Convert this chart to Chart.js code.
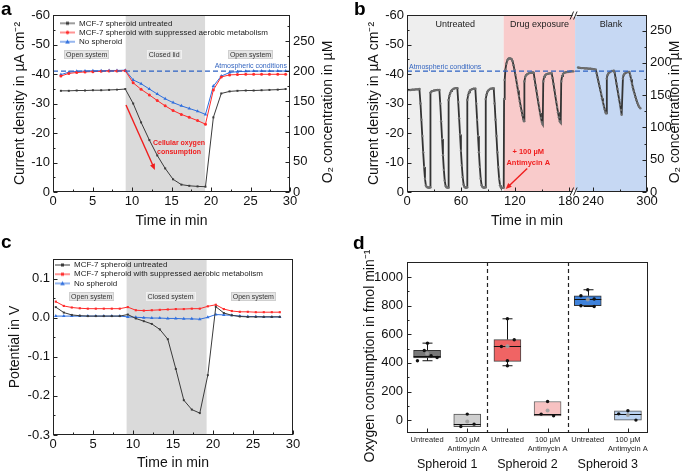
<!DOCTYPE html>
<html><head><meta charset="utf-8">
<script src="https://cdn.jsdelivr.net/npm/chart.js@4.4.1/dist/chart.umd.min.js"></script>
<style>
html,body{margin:0;padding:0;background:#fff;}
body{width:690px;height:472px;position:relative;overflow:hidden;font-family:'Liberation Sans',Arial,sans-serif;}
canvas{position:absolute;}
.tag{position:absolute;font-weight:bold;font-size:19px;line-height:19px;color:#000;}
</style></head><body>
<canvas id="ca" width="345" height="236" style="left:0;top:0"></canvas>
<canvas id="cb" width="345" height="236" style="left:345px;top:0"></canvas>
<canvas id="cc" width="345" height="236" style="left:0;top:236px"></canvas>
<canvas id="cd" width="345" height="236" style="left:345px;top:236px"></canvas>
<div class="tag" style="left:1px;top:-1px">a</div>
<div class="tag" style="left:354px;top:-1px">b</div>
<div class="tag" style="left:1px;top:232px">c</div>
<div class="tag" style="left:353px;top:233px">d</div>
<script>
// ================= DATA =================
// Panel a: current density (µA cm-2) vs time (min)
const aTime = [1.0,2.0,3.0,4.05,5.05,6.1,7.1,8.1,9.15,10.15,11.15,12.2,13.2,14.2,15.2,16.25,17.25,18.3,19.3,20.3,21.3,22.35,23.35,24.4,25.4,26.4,27.4,28.45,29.45];
const aUntreated = [-34.3,-34.3,-34.4,-34.4,-34.5,-34.5,-34.6,-34.7,-34.9,-30.0,-23.6,-17.6,-12.4,-8.0,-4.3,-2.5,-2.1,-1.9,-1.8,-25.3,-33.4,-34.1,-34.3,-34.4,-34.4,-34.5,-34.6,-34.7,-34.9];
const aSuppressed = [-39.3,-40.2,-40.5,-40.7,-40.8,-40.9,-41.0,-41.0,-41.1,-37.0,-34.8,-32.9,-31.0,-29.2,-27.6,-26.3,-25.3,-24.2,-23.0,-34.6,-39.0,-39.7,-39.8,-39.9,-39.9,-39.9,-39.9,-39.9,-39.9];
const aNoSpheroid = [-39.8,-40.6,-40.9,-41.0,-41.1,-41.1,-41.2,-41.2,-41.3,-38.0,-36.7,-34.9,-33.2,-31.6,-30.3,-29.2,-28.3,-27.4,-26.3,-35.9,-39.3,-40.5,-40.8,-40.9,-41.0,-41.0,-41.0,-41.0,-41.0];
const aXTicks = [0,5,10,15,20,25,30];
const aXMinor = [2.5,7.5,12.5,17.5,22.5,27.5];
const aYTicks = [-60,-50,-40,-30,-20,-10,0];
const aYMinor = [-55,-45,-35,-25,-15,-5];
const aO2Ticks = [0,50,100,150,200,250];
const aO2Minor = [25,75,125,175,225,275];
const aClosedPeriod = [9.2, 19.25];
const atmosphericLevel = -41.0;

// Panel b: long-term measurement (real minutes; 187-220 min cut out of the axis)
const bTimeMain = [0,2,4,6,8,10,12,13.8,15,16,17,18,19,20,21,22,23,24,25,25.8,26.1,27,28,30,32,34,36,37,38,39,40,41,42,43,44,45,46,46.3,47,48,49,50,52,54,56,57,58,59,60,61,62,63,64,65,66,66.8,67.1,68,69,70,72,74,76,77,78,79,80,81,82,83,84,85,86,87.3,87.6,88.5,89.5,91,93,95,96.5,97.5,98.5,99.5,100.5,101.5,102.5,103.5,104.5,105.5,106.5,107.6,108,108.7,109.5,110.5,111.5,112.5,113.5,114.5,115.5,116.5,117.5,118.5,119.5,120.5,121.5,122.5,123.5,124.5,125.5,126.5,127.5,128.5,129.5,130.2,130.6,131.5,132.5,134,136,138,140,141,142,143,144,145,146,147,148,149,150,151,151.6,152.5,153.5,155,157,159,161,162,163,164,165,166,167,168,169,170,171,171.6,172.5,173.5,175,177,179,181,183,185];
const bCurrentMain = [-34.5,-34.6,-34.6,-34.7,-34.7,-34.8,-34.8,-34.9,-30,-24.5,-19,-13.5,-8.5,-4.5,-2.2,-1.7,-1.6,-1.5,-1.5,-1.6,-33.7,-34.0,-34.2,-34.4,-34.5,-34.6,-34.6,-30,-24,-18,-12.5,-7.5,-3.8,-2.0,-1.6,-1.5,-1.5,-31.2,-32.5,-33.5,-34.2,-34.6,-35.0,-35.2,-35.2,-30.5,-25,-19.5,-14,-9,-5,-2.5,-1.7,-1.5,-1.5,-1.6,-31.2,-32.8,-33.8,-34.4,-34.8,-35.0,-35.0,-30,-24.5,-19,-13.5,-8.5,-4.5,-2.3,-1.7,-1.5,-1.5,-1.6,-31.5,-33.0,-34.0,-34.6,-35.0,-35.1,-35.1,-30,-24.5,-19,-13.5,-8.5,-4.5,-2.3,-1.6,-1.4,-1.4,-1.5,-31.5,-38,-41.5,-43.5,-44.6,-45.1,-45.3,-45.3,-45.2,-45.0,-44.3,-43,-41.5,-39.8,-38,-36.2,-34.4,-32.6,-30.8,-29.1,-27.5,-26,-24.6,-24,-37.5,-39,-39.6,-40,-40.3,-40.4,-40.5,-40.4,-38.2,-36.2,-34.3,-32.3,-30.4,-28.6,-26.8,-25.1,-23.7,-23,-37.5,-39,-39.5,-39.9,-40.1,-40.2,-40.2,-38.6,-36.6,-34.6,-32.6,-30.6,-28.8,-27,-25.3,-24,-23.5,-37.5,-39.3,-40,-40.4,-40.6,-40.7,-40.8,-40.9,-40.9];
const bTimeBlank = [223.3,225,227,229,231,233,235,237,239,241,243,244,245,246,247,248,249,250,251,252,253,254,254.5,255.3,256,257,259,261,263,264,265,266,267,268,269,270,271,271.8,273.2,274,275,277,279,280.3,281.3,282.3,283.3,284.3,285.3,286.3,287.3,288.3,289.3,290.3,291.3,292.6];
const bCurrentBlank = [-42.2,-42.1,-42.0,-42.0,-41.9,-41.9,-41.8,-41.8,-41.7,-41.6,-41.5,-40.2,-38.8,-37.4,-36,-34.6,-33.2,-31.8,-30.5,-29.2,-28,-27,-26.7,-38.5,-39.6,-40.2,-40.7,-41,-41.1,-40.5,-38.7,-36.8,-35,-33.2,-31.4,-29.6,-27.8,-26.2,-38.5,-39.6,-40.1,-40.5,-40.7,-40.7,-39.6,-38.2,-36.8,-35.5,-34.3,-33.2,-32.1,-31.1,-30.2,-29.4,-28.8,-28.4];
const bXTickValues = [0,60,120,180,240,300];
const bXTickLabels = ['0','60','120','180','240','300'];
const bXMinorValues = [30,90,150,270];
const bO2Ticks = [0,50,100,150,200,250];
const bO2Minor = [25,75,125,175,225];
const bPhaseLabels = ['Untreated','Drug exposure','Blank'];
const bPhaseStart = [0,107.6,220];
const bPhaseEnd = [107.6,187,300];
const bAxisCutStart = 187, bAxisCutEnd = 220;

// Panel c: potential (V)
const cTime = [0.35,1.35,2.35,3.35,4.35,5.35,6.35,7.35,8.35,9.35,10.35,11.35,12.35,13.35,14.35,15.35,16.35,17.35,18.35,19.35,20.35,21.35,22.35,23.35,24.35,25.35,26.35,27.35,28.35];
const cUntreated = [0.027,0.013,0.007,0.005,0.004,0.004,0.004,0.004,0.004,0.008,-0.002,-0.009,-0.016,-0.030,-0.055,-0.131,-0.211,-0.235,-0.244,-0.147,0.028,0.012,0.006,0.003,0.002,0.002,0.002,0.002,0.002];
const cSuppressed = [0.041,0.030,0.026,0.024,0.023,0.023,0.023,0.023,0.023,0.027,0.019,0.018,0.019,0.020,0.021,0.022,0.022,0.023,0.023,0.029,0.033,0.022,0.017,0.015,0.015,0.014,0.014,0.014,0.014];
const cNoSpheroid = [0.004,0.004,0.004,0.004,0.004,0.004,0.004,0.004,0.004,0.002,0.001,0.000,-0.001,-0.001,-0.002,-0.002,-0.003,-0.003,-0.004,0.001,0.008,0.007,0.006,0.004,0.003,0.003,0.002,0.002,0.002];
const cXTicks = [0,5,10,15,20,25,30];
const cXMinor = [2.5,7.5,12.5,17.5,22.5,27.5];
const cYTicks = [-0.3,-0.2,-0.1,0,0.1];
const cYMinor = [-0.25,-0.15,-0.05,0.05];
const cClosedPeriod = [9.2, 19.2];

// Panel d: oxygen consumption (fmol/min)
const dCategories = ['Untreated',['100 µM','Antimycin A'],'Untreated',['100 µM','Antimycin A'],'Untreated',['100 µM','Antimycin A']];
const dGroups = ['Spheroid 1','Spheroid 2','Spheroid 3'];
const dMin = [415,-45,380,30,794,0];
const dQ1 = [434,-45,410,30,799,0];
const dMedian = [450,-28,515,42,846,44];
const dQ3 = [487,42,562,130,869,65];
const dMax = [538,42,708,130,911,65];
const dMean = [465.6,-10.3,516,67,843.8,36];
const dPoints = [[415,487,538,450,438],[-45,42,-28],[708,562,515,415,380],[130,42,30],[911,869,846,799,794],[65,44,0]];
const dJitter = [[-0.24,-0.07,0.01,0.1,0.25],[-0.16,0,0.17],[0,0.17,-0.15,0,0],[0,-0.16,0.15],[0,-0.17,0.16,-0.17,0.16],[0,-0.23,0.2]];
const dYTicks = [0,200,400,600,800,1000];
const dYMinor = [100,300,500,700,900];

// ================= STYLE / HELPERS =================
const FONT = "'Liberation Sans', Arial, Helvetica, sans-serif";
Chart.defaults.font.family = FONT;
Chart.defaults.font.size = 13;
Chart.defaults.color = '#111';
const colBlack = '#3a3a3a', colRed = '#ff2b2b', colBlue = '#2f6fde', colDash = '#2d62c4';
const pts = (xs, ys) => xs.map((x, i) => ({x: x, y: ys[i]}));
const fixed = vals => scale => { scale.ticks = vals.map(v => ({value: v})); };
const bAxis = t => t <= bAxisCutStart ? t : t - (bAxisCutEnd - bAxisCutStart);

function lineSet(label, xs, ys, color, style, r) {
  return {label: label, data: pts(xs, ys), borderColor: color, backgroundColor: color, borderWidth: 1,
    pointStyle: style, pointRadius: r, pointBorderWidth: 0, pointBackgroundColor: color, tension: 0, order: 1};
}
function icon(color, style) {
  const c = document.createElement('canvas'); c.width = 15; c.height = 6;
  const g = c.getContext('2d');
  g.strokeStyle = color; g.lineWidth = 1; g.beginPath(); g.moveTo(0, 3); g.lineTo(15, 3); g.stroke();
  g.fillStyle = color;
  if (style === 'rect') g.fillRect(6, 1.5, 3, 3);
  else if (style === 'circle') { g.beginPath(); g.arc(7.5, 3, 1.7, 0, 2 * Math.PI); g.fill(); }
  else { g.beginPath(); g.moveTo(7.5, 0.8); g.lineTo(9.8, 4.8); g.lineTo(5.2, 4.8); g.closePath(); g.fill(); }
  return c;
}
function legendOpts(icons) {
  return {display: true, position: 'chartArea', align: 'start',
    labels: {usePointStyle: true, pointStyleWidth: 15, boxHeight: 8, padding: 1.2, font: {size: 8}, color: '#222',
      filter: it => !!it.text,
      generateLabels: chart => {
        const items = Chart.defaults.plugins.legend.labels.generateLabels(chart);
        items.forEach(it => { if (icons[it.datasetIndex]) it.pointStyle = icons[it.datasetIndex]; });
        return items;
      }}};
}
function legendAt(dx, dy) {
  return {id: 'legendAt', afterLayout(chart) {
    const L = chart.legend, a = chart.chartArea; if (!L) return;
    const w = L.width, h = L.height;
    L.left = a.left + dx; L.top = a.top + dy; L.right = L.left + w; L.bottom = L.top + h;
  }};
}
function makeFrame(specs) {
  return {id: 'frameTicks', afterDatasetsDraw(chart) {
    const ctx = chart.ctx, a = chart.chartArea;
    const L = Math.round(a.left) + 0.5, R = Math.round(a.right) - 0.5, T = Math.round(a.top) + 0.5, B = Math.round(a.bottom) - 0.5;
    ctx.save();
    ctx.strokeStyle = '#222'; ctx.lineWidth = 1;
    ctx.strokeRect(L, T, R - L, B - T);
    ctx.beginPath();
    specs.forEach(sp => {
      const sc = chart.scales[sp.scale];
      const draw = (v, len) => {
        const p = Math.round(sc.getPixelForValue(v)) + 0.5;
        if (sp.edge === 'bottom') { ctx.moveTo(p, B); ctx.lineTo(p, B - len); }
        else if (sp.edge === 'left') { ctx.moveTo(L, p); ctx.lineTo(L + len, p); }
        else { ctx.moveTo(R, p); ctx.lineTo(R - len, p); }
      };
      (sp.major || []).forEach(v => draw(v, 4));
      (sp.minor || []).forEach(v => draw(v, 2));
    });
    ctx.stroke(); ctx.restore();
  }};
}
function sideTitle(id, text, x, y, size) {
  return {id: id, afterDraw(chart) {
    const ctx = chart.ctx; ctx.save(); ctx.translate(x, y); ctx.rotate(-Math.PI / 2);
    ctx.font = size + 'px ' + FONT; ctx.fillStyle = '#111'; ctx.textAlign = 'center'; ctx.textBaseline = 'middle';
    ctx.fillText(text, 0, 0); ctx.restore();
  }};
}
function noteBox(ctx, text, cx, cy, fill, stroke) {
  ctx.font = '7px ' + FONT;
  const w = ctx.measureText(text).width + 4, h = 9;
  ctx.fillStyle = fill; ctx.fillRect(Math.round(cx - w / 2), Math.round(cy - h / 2), Math.round(w), h);
  ctx.strokeStyle = stroke; ctx.lineWidth = 1;
  ctx.strokeRect(Math.round(cx - w / 2) + 0.5, Math.round(cy - h / 2) + 0.5, Math.round(w) - 1, h - 1);
  ctx.fillStyle = '#333'; ctx.textAlign = 'center'; ctx.textBaseline = 'middle';
  ctx.fillText(text, cx, cy + 0.5);
}
function arrow(ctx, x0, y0, x1, y1, color) {
  const ang = Math.atan2(y1 - y0, x1 - x0), hl = 6, hw = 2.6;
  ctx.strokeStyle = color; ctx.fillStyle = color; ctx.lineWidth = 1.4;
  ctx.beginPath(); ctx.moveTo(x0, y0); ctx.lineTo(x1 - hl * 0.8 * Math.cos(ang), y1 - hl * 0.8 * Math.sin(ang)); ctx.stroke();
  ctx.beginPath(); ctx.moveTo(x1, y1);
  ctx.lineTo(x1 - hl * Math.cos(ang) + hw * Math.sin(ang), y1 - hl * Math.sin(ang) - hw * Math.cos(ang));
  ctx.lineTo(x1 - hl * Math.cos(ang) - hw * Math.sin(ang), y1 - hl * Math.sin(ang) + hw * Math.cos(ang));
  ctx.closePath(); ctx.fill();
}
const hiddenGrid = {display: false, drawTicks: false};
const noBorder = {display: false};
function xTitle(text, pb) { return {display: true, text: text, font: {size: 14}, color: '#111', padding: {top: 0, bottom: pb}}; }
function yTitle(text, pt) { return {display: true, text: text, font: {size: 14}, color: '#111', padding: {top: pt, bottom: 0}}; }
const baseOpts = {devicePixelRatio: 1, responsive: false, animation: false, events: []};

// ================= PANEL A =================
const aNotes = {
  id: 'aNotes',
  beforeDraw(chart) {
    const {ctx, chartArea: ca, scales: {x, y}} = chart;
    ctx.save();
    const x0 = x.getPixelForValue(aClosedPeriod[0]), x1 = x.getPixelForValue(aClosedPeriod[1]);
    ctx.fillStyle = '#dadada'; ctx.fillRect(x0, ca.top, x1 - x0, ca.bottom - ca.top);
    const yb = y.getPixelForValue(-46.5);
    noteBox(ctx, 'Open system', x.getPixelForValue(4.27), yb, '#e6e6e6', '#cfcfcf');
    noteBox(ctx, 'Closed lid', x.getPixelForValue(14.07), yb, '#e4e4e4', '#f0f0f0');
    noteBox(ctx, 'Open system', x.getPixelForValue(25.0), yb, '#e6e6e6', '#cfcfcf');
    ctx.font = '7px ' + FONT; ctx.fillStyle = '#3566c0'; ctx.textAlign = 'right'; ctx.textBaseline = 'middle';
    ctx.fillText('Atmospheric conditions', ca.right - 3, y.getPixelForValue(-42.7));
    arrow(ctx, x.getPixelForValue(9.24), y.getPixelForValue(-29.5), x.getPixelForValue(12.9), y.getPixelForValue(-7.5), '#f01e1e');
    ctx.font = 'bold 7px ' + FONT; ctx.fillStyle = '#f01e1e'; ctx.textAlign = 'center';
    ctx.fillText('Cellular oxygen', x.getPixelForValue(15.95), y.getPixelForValue(-16.6));
    ctx.fillText('consumption', x.getPixelForValue(15.95), y.getPixelForValue(-13.6));
    ctx.restore();
  }
};
const iconsAC = [icon(colBlack, 'rect'), icon(colRed, 'circle'), icon(colBlue, 'triangle')];
new Chart(document.getElementById('ca'), {
  type: 'line',
  data: {datasets: [
    lineSet('MCF-7 spheroid untreated', aTime, aUntreated, colBlack, 'rect', 1.4),
    lineSet('MCF-7 spheroid with suppressed aerobic metabolism', aTime, aSuppressed, colRed, 'circle', 1.5),
    lineSet('No spheroid', aTime, aNoSpheroid, colBlue, 'triangle', 2),
    {data: [{x: 0, y: atmosphericLevel}, {x: 30, y: atmosphericLevel}], borderColor: colDash, borderWidth: 1.3, borderDash: [5, 3], pointRadius: 0, order: 0}
  ]},
  options: Object.assign({}, baseOpts, {
    layout: {padding: {top: 15, left: 0, right: 0, bottom: 0}},
    plugins: {legend: legendOpts(iconsAC), tooltip: {enabled: false}},
    scales: {
      x: {type: 'linear', min: 0, max: 30, afterBuildTicks: fixed(aXTicks), afterFit: s => { s.height = 44; },
        grid: hiddenGrid, border: noBorder, ticks: {padding: 2, autoSkip: false, maxRotation: 0}, title: xTitle('Time in min', 6)},
      y: {type: 'linear', position: 'left', reverse: true, min: -60, max: 0, afterBuildTicks: fixed(aYTicks), afterFit: s => { s.width = 53; },
        grid: hiddenGrid, border: noBorder, ticks: {padding: 3}, title: yTitle('Current density in µA cm⁻²', 12)},
      y2: {type: 'linear', position: 'right', min: 0, max: 293, afterBuildTicks: fixed(aO2Ticks), afterFit: s => { s.width = 55; },
        grid: hiddenGrid, border: noBorder, ticks: {padding: 3}}
    }
  }),
  plugins: [aNotes, makeFrame([
    {scale: 'x', edge: 'bottom', major: aXTicks, minor: aXMinor},
    {scale: 'y', edge: 'left', major: aYTicks, minor: aYMinor},
    {scale: 'y2', edge: 'right', major: aO2Ticks, minor: aO2Minor}]),
    legendAt(5.8, 3.1), sideTitle('aRight', 'O₂ concentration in µM', 328, 112, 14)]
});

// ================= PANEL B =================
const bPhaseColors = ['#eeeeee', '#f9cbcb', '#c6d8f3'];
const bNotes = {
  id: 'bNotes',
  beforeDraw(chart) {
    const {ctx, chartArea: ca, scales: {x, y}} = chart;
    ctx.save();
    bPhaseLabels.forEach((lab, i) => {
      const x0 = x.getPixelForValue(bAxis(bPhaseStart[i])), x1 = x.getPixelForValue(bAxis(bPhaseEnd[i]));
      ctx.fillStyle = bPhaseColors[i]; ctx.fillRect(x0, ca.top, x1 - x0, ca.bottom - ca.top);
      ctx.font = '9px ' + FONT; ctx.fillStyle = '#222'; ctx.textAlign = 'center'; ctx.textBaseline = 'middle';
      ctx.fillText(lab, (x0 + x1) / 2, ca.top + 10);
    });
    ctx.font = '7px ' + FONT; ctx.fillStyle = '#3566c0'; ctx.textAlign = 'left';
    ctx.fillText('Atmospheric conditions', ca.left + 2, y.getPixelForValue(-42.4));
    ctx.restore();
  },
  afterDatasetsDraw(chart) {
    const {ctx, scales: {x, y}} = chart;
    ctx.save();
    ctx.font = 'bold 7.5px ' + FONT; ctx.fillStyle = '#f01e1e'; ctx.textAlign = 'center'; ctx.textBaseline = 'middle';
    ctx.fillText('+ 100 µM', x.getPixelForValue(134.9), y.getPixelForValue(-13.7));
    ctx.fillText('Antimycin A', x.getPixelForValue(134.9), y.getPixelForValue(-9.7));
    arrow(ctx, x.getPixelForValue(133.7), y.getPixelForValue(-8.0), x.getPixelForValue(109.8), y.getPixelForValue(-1.0), '#f01e1e');
    ctx.restore();
  }
};
const bBreak = {
  id: 'bBreak',
  afterDatasetsDraw(chart) {
    const {ctx, chartArea: ca, scales: {x}} = chart;
    const px = x.getPixelForValue(bAxisCutStart);
    ctx.save();
    [Math.round(ca.top) + 0.5, Math.round(ca.bottom) - 0.5].forEach(yy => {
      ctx.fillStyle = '#fff'; ctx.fillRect(px - 2.5, yy - 1.5, 4, 3);
      ctx.strokeStyle = '#222'; ctx.lineWidth = 1; ctx.beginPath();
      ctx.moveTo(px - 5, yy + 4); ctx.lineTo(px - 1.5, yy - 4);
      ctx.moveTo(px - 1.5, yy + 4); ctx.lineTo(px + 2, yy - 4);
      ctx.stroke();
    });
    ctx.restore();
  }
};
const bLineStyle = {borderColor: '#333333', borderWidth: 1.8, pointRadius: 1.2, pointBackgroundColor: '#6e6e6e', pointBorderWidth: 0, tension: 0, order: 1};
new Chart(document.getElementById('cb'), {
  type: 'line',
  data: {datasets: [
    Object.assign({data: pts(bTimeMain.map(bAxis), bCurrentMain)}, bLineStyle),
    Object.assign({data: pts(bTimeBlank.map(bAxis), bCurrentBlank)}, bLineStyle),
    {data: [{x: 0, y: atmosphericLevel}, {x: bAxis(300), y: atmosphericLevel}], borderColor: colDash, borderWidth: 1.3, borderDash: [5, 3], pointRadius: 0, order: 0}
  ]},
  options: Object.assign({}, baseOpts, {
    layout: {padding: {top: 15, left: 0, right: 0, bottom: 0}},
    plugins: {legend: {display: false}, tooltip: {enabled: false}},
    scales: {
      x: {type: 'linear', min: 0, max: bAxis(300), afterBuildTicks: fixed(bXTickValues.map(bAxis)), afterFit: s => { s.height = 44; },
        grid: hiddenGrid, border: noBorder, ticks: {padding: 2, autoSkip: false, maxRotation: 0, callback: (v, i) => bXTickLabels[i]},
        title: xTitle('Time in min', 6)},
      y: {type: 'linear', position: 'left', reverse: true, min: -60, max: 0, afterBuildTicks: fixed(aYTicks), afterFit: s => { s.width = 62; },
        grid: hiddenGrid, border: noBorder, ticks: {padding: 3}, title: yTitle('Current density in µA cm⁻²', 21)},
      y2: {type: 'linear', position: 'right', min: 0, max: 274, afterBuildTicks: fixed(bO2Ticks), afterFit: s => { s.width = 43; },
        grid: hiddenGrid, border: noBorder, ticks: {padding: 3}}
    }
  }),
  plugins: [bNotes, makeFrame([
    {scale: 'x', edge: 'bottom', major: bXTickValues.map(bAxis), minor: bXMinorValues.map(bAxis)},
    {scale: 'y', edge: 'left', major: aYTicks, minor: aYMinor},
    {scale: 'y2', edge: 'right', major: bO2Ticks, minor: bO2Minor}]),
    bBreak, sideTitle('bRight', 'O₂ concentration in µM', 330, 112, 14)]
});

// ================= PANEL C =================
const cNotes = {
  id: 'cNotes',
  beforeDraw(chart) {
    const {ctx, chartArea: ca, scales: {x, y}} = chart;
    ctx.save();
    const x0 = x.getPixelForValue(cClosedPeriod[0]), x1 = x.getPixelForValue(cClosedPeriod[1]);
    ctx.fillStyle = '#dadada'; ctx.fillRect(x0, ca.top, x1 - x0, ca.bottom - ca.top);
    const yb = y.getPixelForValue(0.053);
    noteBox(ctx, 'Open system', x.getPixelForValue(4.84), yb, '#e6e6e6', '#cfcfcf');
    noteBox(ctx, 'Closed system', x.getPixelForValue(14.69), yb, '#e4e4e4', '#f0f0f0');
    noteBox(ctx, 'Open system', x.getPixelForValue(25.04), yb, '#e6e6e6', '#cfcfcf');
    ctx.restore();
  }
};
const iconsC = [icon(colBlack, 'rect'), icon(colRed, 'rect'), icon(colBlue, 'triangle')];
new Chart(document.getElementById('cc'), {
  type: 'line',
  data: {datasets: [
    lineSet('MCF-7 spheroid untreated', cTime, cUntreated, colBlack, 'rect', 1.4),
    lineSet('MCF-7 spheroid with suppressed aerobic metabolism', cTime, cSuppressed, colRed, 'rect', 1.5),
    lineSet('No spheroid', cTime, cNoSpheroid, colBlue, 'triangle', 2)
  ]},
  options: Object.assign({}, baseOpts, {
    layout: {padding: {top: 23, left: 0, right: 52, bottom: 0}},
    plugins: {legend: legendOpts(iconsC), tooltip: {enabled: false}},
    scales: {
      x: {type: 'linear', min: 0, max: 30, afterBuildTicks: fixed(cXTicks), afterFit: s => { s.height = 37; },
        grid: hiddenGrid, border: noBorder, ticks: {padding: 1.5, autoSkip: false, maxRotation: 0}, title: xTitle('Time in min', 0)},
      y: {type: 'linear', position: 'left', min: -0.3, max: 0.15, afterBuildTicks: fixed(cYTicks), afterFit: s => { s.width = 53; },
        grid: hiddenGrid, border: noBorder, ticks: {padding: 3, callback: v => v.toFixed(1)}, title: yTitle('Potential in V', 7)}
    }
  }),
  plugins: [cNotes, makeFrame([
    {scale: 'x', edge: 'bottom', major: cXTicks, minor: cXMinor},
    {scale: 'y', edge: 'left', major: cYTicks, minor: cYMinor}]),
    legendAt(0.8, 0.8)]
});

// ================= PANEL D =================
const dFill = ['#787878', '#cfcfcf', '#f06464', '#f7c2c2', '#3f82db', '#bcd3f1'];
const dEdge = ['#333', '#555', '#444', '#666', '#333', '#555'];
const dPlot = {
  id: 'dPlot',
  beforeDatasetsDraw(chart) {
    const {ctx, chartArea: ca, scales: {xp, y}} = chart;
    ctx.save();
    ctx.strokeStyle = '#222'; ctx.lineWidth = 1.2; ctx.setLineDash([4, 3]);
    [1.5, 3.5].forEach(v => {
      const p = Math.round(xp.getPixelForValue(v)) + 0.5;
      ctx.beginPath(); ctx.moveTo(p, ca.top); ctx.lineTo(p, ca.bottom); ctx.stroke();
    });
    ctx.setLineDash([]); ctx.lineWidth = 1; ctx.strokeStyle = '#111';
    dMin.forEach((mn, i) => {
      const p = Math.round(xp.getPixelForValue(i)) + 0.5;
      const yMin = y.getPixelForValue(mn), yMax = y.getPixelForValue(dMax[i]);
      const yQ1 = y.getPixelForValue(dQ1[i]), yQ3 = y.getPixelForValue(dQ3[i]);
      ctx.beginPath();
      if (dMax[i] > dQ3[i]) { ctx.moveTo(p, yQ3); ctx.lineTo(p, yMax); ctx.moveTo(p - 5, yMax); ctx.lineTo(p + 5, yMax); }
      if (mn < dQ1[i]) { ctx.moveTo(p, yQ1); ctx.lineTo(p, yMin); ctx.moveTo(p - 5, yMin); ctx.lineTo(p + 5, yMin); }
      ctx.stroke();
    });
    ctx.restore();
  },
  afterDatasetDraw(chart, args) {
    if (args.index !== 2) return;
    const {ctx, scales: {xp, y}} = chart;
    ctx.save(); ctx.strokeStyle = '#111'; ctx.lineWidth = 1;
    dMedian.forEach((m, i) => {
      const p = xp.getPixelForValue(i), yy = Math.round(y.getPixelForValue(m)) + 0.5;
      ctx.beginPath(); ctx.moveTo(p - 13.5, yy); ctx.lineTo(p + 13.5, yy); ctx.stroke();
    });
    ctx.restore();
  },
  afterDraw(chart) {
    const ctx = chart.ctx; ctx.save(); ctx.translate(25, 120); ctx.rotate(-Math.PI / 2);
    ctx.font = '14px ' + FONT; ctx.fillStyle = '#111'; ctx.textAlign = 'center'; ctx.textBaseline = 'middle';
    ctx.fillText('Oxygen consumption in fmol min⁻¹', 0, 0); ctx.restore();
  }
};
const dPointData = [], dMeanData = [];
dPoints.forEach((arr, i) => arr.forEach((v, j) => dPointData.push({x: i + dJitter[i][j], y: v})));
dMean.forEach((m, i) => dMeanData.push({x: i, y: m}));
new Chart(document.getElementById('cd'), {
  type: 'bar',
  data: {labels: dCategories, datasets: [
    {type: 'scatter', data: dPointData, xAxisID: 'xp', yAxisID: 'y', pointRadius: 1.7, pointBackgroundColor: '#111', pointBorderWidth: 0, order: 0},
    {type: 'scatter', data: dMeanData, xAxisID: 'xp', yAxisID: 'y', pointRadius: 2, pointBackgroundColor: 'rgba(160,160,160,0.9)', pointBorderWidth: 0, order: 1},
    {type: 'bar', data: dQ1.map((q, i) => [q, dQ3[i]]), xAxisID: 'x', yAxisID: 'y', backgroundColor: dFill, borderColor: dEdge,
      borderWidth: 1, borderSkipped: false, barThickness: 27, grouped: false, order: 2}
  ]},
  options: Object.assign({}, baseOpts, {
    layout: {padding: {top: 26, left: 0, right: 42, bottom: 0}},
    plugins: {legend: {display: false}, tooltip: {enabled: false}},
    scales: {
      x: {type: 'category', position: 'bottom', offset: true, weight: 0, afterFit: s => { s.height = 24; },
        grid: {display: false, drawTicks: false, offset: true}, border: noBorder,
        ticks: {font: {size: 7.5, lineHeight: 1.2}, padding: 2.5, autoSkip: false, maxRotation: 0, color: '#222'}},
      xg: {type: 'category', position: 'bottom', labels: dGroups, offset: true, weight: 1, afterFit: s => { s.height = 15; },
        grid: {display: false, drawTicks: false}, border: noBorder,
        ticks: {font: {size: 12.5}, padding: 0.5, autoSkip: false, maxRotation: 0}},
      xp: {type: 'linear', display: false, offset: false, min: -0.5, max: 5.5, grid: {offset: false}},
      y: {type: 'linear', position: 'left', min: -90, max: 1105, afterBuildTicks: fixed(dYTicks), afterFit: s => { s.width = 62; },
        grid: hiddenGrid, border: noBorder, ticks: {padding: 4, callback: v => String(v)}}
    }
  }),
  plugins: [dPlot, makeFrame([
    {scale: 'y', edge: 'left', major: dYTicks, minor: dYMinor},
    {scale: 'xp', edge: 'bottom', major: [0, 1, 2, 3, 4, 5]}])]
});
</script>
</body></html>
